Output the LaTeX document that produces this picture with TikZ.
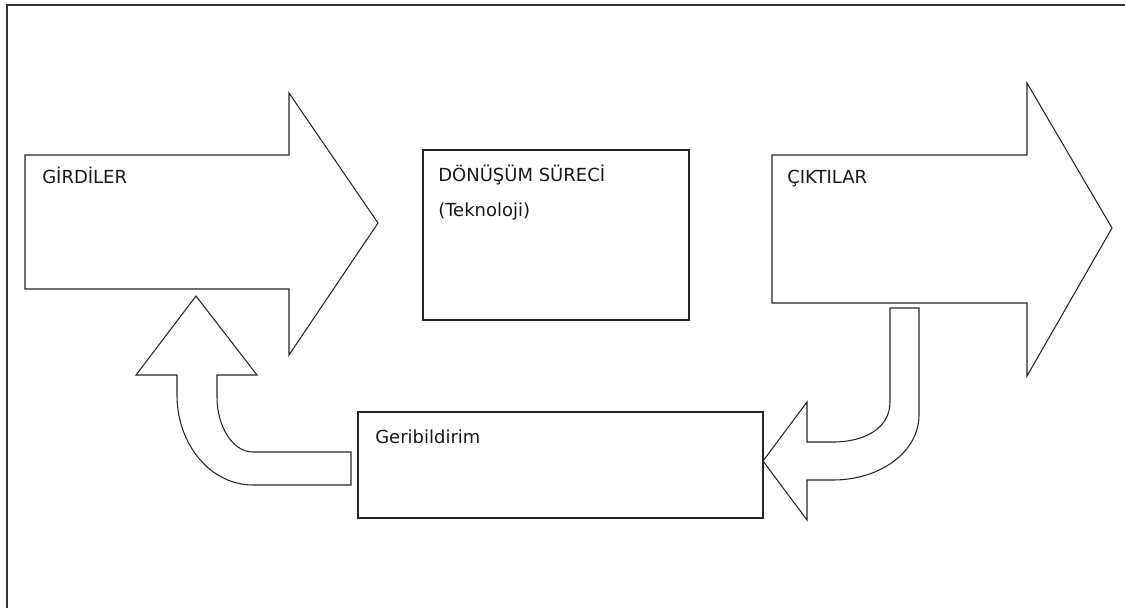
\documentclass[tikz,border=0pt]{standalone}
\usepackage{fontspec}
\setmainfont{DejaVu Sans}
\begin{document}
\begin{tikzpicture}[x=0.75pt,y=-0.75pt,
  shapeline/.style={draw=black!85,line width=0.8pt,fill=white,line join=miter},
  boxline/.style={draw=black!85,line width=0.9pt,fill=white,rectangle,inner sep=0pt},
  lbl/.style={inner sep=0pt,anchor=base west,font=\fontsize{13.5}{26.25}\selectfont,align=left,text=black!90}]
\useasboundingbox (0,0) rectangle (1125,608);
% frame
\draw[line width=1.6pt,black!80] (7,608) -- (7,5) -- (1125,5);

% GIRDILER arrow
\draw[shapeline] (25,155) -- (289,155) -- (289,93) -- (378,223) -- (289,355) -- (289,289) -- (25,289) -- cycle;
% CIKTILAR arrow
\draw[shapeline] (772,155) -- (1027,155) -- (1027,83) -- (1112,228) -- (1027,376) -- (1027,303) -- (772,303) -- cycle;

% process box
\node[boxline,minimum width=199.5pt,minimum height=127.5pt] (proc) at (556,235) {};
% feedback box
\node[boxline,minimum width=303.75pt,minimum height=79.5pt] (fb) at (560.5,465) {};

% bent arrow from feedback to inputs
\draw[shapeline] (351,452) -- (253,452) .. controls (233,452) and (217,427) .. (217,397)
  -- (217,375) -- (257,375) -- (196,296) -- (136,375) -- (177,375) -- (177,395)
  .. controls (177,445) and (211,485) .. (253,485) -- (351,485) -- cycle;

% bent arrow from outputs to feedback
\draw[shapeline] (890,308) -- (919,308) -- (919,415) .. controls (919,452) and (880,480) .. (833,480)
  -- (807,480) -- (807,520) -- (763,461) -- (807,402) -- (807,442) -- (833,442)
  .. controls (865,442) and (890,428) .. (890,402) -- cycle;

% labels
\node[lbl] (tin) at (42,183) {GİRDİLER};
\node[lbl] (tout) at (787,183) {ÇIKTILAR};
\node[lbl,anchor=north west] (tproc) at (438,165) {DÖNÜŞÜM SÜRECİ\\(Teknoloji)};
\node[lbl] (tfb) at (375,443) {Geribildirim};
\end{tikzpicture}
\end{document}
